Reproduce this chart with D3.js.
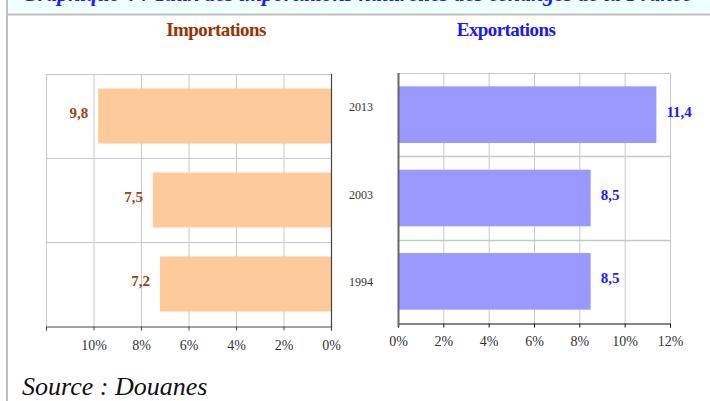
<!DOCTYPE html>
<html><head><meta charset="utf-8">
<script src="https://cdn.jsdelivr.net/npm/d3@7"></script>
<style>
html,body{margin:0;padding:0;background:#fff;}
svg{display:block;}
text{font-family:"Liberation Serif","Times New Roman",serif;}
</style></head>
<body>
<svg id="c" width="710" height="401"></svg>
<script>
const categories = ["2013", "2003", "1994"];
const importations = [9.8, 7.5, 7.2];
const exportations = [11.4, 8.5, 8.5];
const importLabels = ["9,8", "7,5", "7,2"];
const exportLabels = ["11,4", "8,5", "8,5"];
const tickValues = [0, 2, 4, 6, 8, 10, 12];
const titleImport = "Importations";
const titleExport = "Exportations";
const headerText = "Graphique 4 : Taux des importations naturelles des échanges de la France";
const sourceText = "Source : Douanes";

const svg = d3.select("#c");

// header band
svg.append("rect").attr("x", 8).attr("y", 0).attr("width", 702).attr("height", 14).attr("fill", "#effffe");
svg.append("clipPath").attr("id", "hc").append("rect").attr("x", 8).attr("y", 0).attr("width", 702).attr("height", 14);
svg.append("text").attr("clip-path", "url(#hc)").attr("x", 22).attr("y", 1)
  .attr("font-size", 20).attr("font-weight", "bold").attr("font-style", "italic").attr("fill", "#1a1aff")
  .attr("textLength", 670).attr("lengthAdjust", "spacingAndGlyphs")
  .text(headerText);
svg.append("line").attr("x1", 8).attr("x2", 710).attr("y1", 14.5).attr("y2", 14.5).attr("stroke", "#c0c0c0").attr("stroke-width", 2);
svg.append("line").attr("x1", 7).attr("x2", 7).attr("y1", 0).attr("y2", 401).attr("stroke", "#c0c0c0").attr("stroke-width", 2);

// titles
svg.append("text").attr("x", 216).attr("y", 36).attr("text-anchor", "middle").attr("font-size", 19)
  .attr("font-weight", "bold").attr("fill", "#993300").attr("letter-spacing", -0.6).text(titleImport);
svg.append("text").attr("x", 506).attr("y", 36).attr("text-anchor", "middle").attr("font-size", 19)
  .attr("font-weight", "bold").attr("fill", "#1a1aee").attr("letter-spacing", -0.6).text(titleExport);

const gridColor = "#c8c8c8";

// ---------- Left chart (importations) ----------
const xL = d3.scaleLinear().domain([0, 12]).range([331, 46]);
const yL = d3.scaleBand().domain(categories).range([74, 326]).paddingInner(0.345).paddingOuter(0.1725);
const gL = svg.append("g");
gL.selectAll(".vg").data(tickValues).join("line")
  .attr("x1", d => xL(d) + 0.5).attr("x2", d => xL(d) + 0.5).attr("y1", 74).attr("y2", 326)
  .attr("stroke", gridColor);
const bL = categories.map(c => yL(c) - yL.step() * yL.paddingInner() / 2);
gL.selectAll(".hg").data(bL).join("line")
  .attr("x1", 46).attr("x2", 331).attr("y1", d => Math.round(d) + 0.5).attr("y2", d => Math.round(d) + 0.5)
  .attr("stroke", gridColor);
gL.selectAll(".bar").data(categories).join("rect")
  .attr("x", (d, i) => xL(importations[i])).attr("y", d => yL(d))
  .attr("width", (d, i) => xL(0) - xL(importations[i])).attr("height", yL.bandwidth())
  .attr("fill", "#fdca99");
gL.selectAll(".lab").data(categories).join("text")
  .attr("x", (d, i) => xL(importations[i]) - 10).attr("y", d => yL(d) + yL.bandwidth() / 2 + 2)
  .attr("text-anchor", "end").attr("font-size", 15).attr("font-weight", "bold").attr("fill", "#a0400a")
  .text((d, i) => importLabels[i]);
const axL = gL.append("g").attr("transform", "translate(0,326.5)")
  .call(d3.axisBottom(xL).tickValues(tickValues).tickSize(4).tickPadding(10)
    .tickFormat(d => d === 12 ? "" : d + "%"));
axL.select(".domain").attr("stroke", "#444");
axL.selectAll(".tick line").attr("stroke", "#444");
axL.selectAll("text").attr("font-size", 14).attr("fill", "#333").attr("font-family", "Liberation Serif, serif");
gL.append("line").attr("x1", 331.5).attr("x2", 331.5).attr("y1", 74).attr("y2", 330).attr("stroke", "#444").attr("stroke-width", 1.2);

// ---------- Right chart (exportations) ----------
const xR = d3.scaleLinear().domain([0, 12]).range([398, 670]);
const yR = d3.scaleBand().domain(categories).range([73, 323]).paddingInner(0.32).paddingOuter(0.16);
const gR = svg.append("g");
gR.selectAll(".vg").data(tickValues).join("line")
  .attr("x1", d => xR(d) + 0.5).attr("x2", d => xR(d) + 0.5).attr("y1", 73).attr("y2", 323)
  .attr("stroke", gridColor);
const bR = categories.map(c => yR(c) - yR.step() * yR.paddingInner() / 2);
gR.selectAll(".hg").data(bR).join("line")
  .attr("x1", 398).attr("x2", 670).attr("y1", d => Math.round(d) + 0.5).attr("y2", d => Math.round(d) + 0.5)
  .attr("stroke", gridColor).attr("stroke-width", (d, i) => i === 0 ? 1 : 1.5);
gR.selectAll(".bar").data(categories).join("rect")
  .attr("x", xR(0)).attr("y", d => yR(d))
  .attr("width", (d, i) => xR(exportations[i]) - xR(0)).attr("height", yR.bandwidth())
  .attr("fill", "#9999ff");
gR.selectAll(".lab").data(categories).join("text")
  .attr("x", (d, i) => xR(exportations[i]) + 10).attr("y", d => yR(d) + yR.bandwidth() / 2 + 2)
  .attr("text-anchor", "start").attr("font-size", 15).attr("font-weight", "bold").attr("fill", "#1a1aff")
  .text((d, i) => exportLabels[i]);
const axR = gR.append("g").attr("transform", "translate(0,323.5)")
  .call(d3.axisBottom(xR).tickValues(tickValues).tickSize(4).tickPadding(9).tickFormat(d => d + "%"));
axR.select(".domain").attr("stroke", "#111");
axR.selectAll(".tick line").attr("stroke", "#111");
axR.selectAll("text").attr("font-size", 14).attr("fill", "#333").attr("font-family", "Liberation Serif, serif");
gR.append("line").attr("x1", 398.5).attr("x2", 398.5).attr("y1", 73).attr("y2", 327).attr("stroke", "#666").attr("stroke-width", 2);

// ---------- Category labels ----------
const yC = d3.scalePoint().domain(categories).range([107, 282]);
svg.selectAll(".cat").data(categories).join("text")
  .attr("x", 361).attr("y", d => yC(d)).attr("dy", "0.35em").attr("text-anchor", "middle")
  .attr("font-size", 12).attr("fill", "#333").text(d => d);

// source
svg.append("text").attr("x", 22).attr("y", 395).attr("font-size", 26).attr("font-style", "italic")
  .attr("fill", "#111").text(sourceText);
</script>
</body></html>
